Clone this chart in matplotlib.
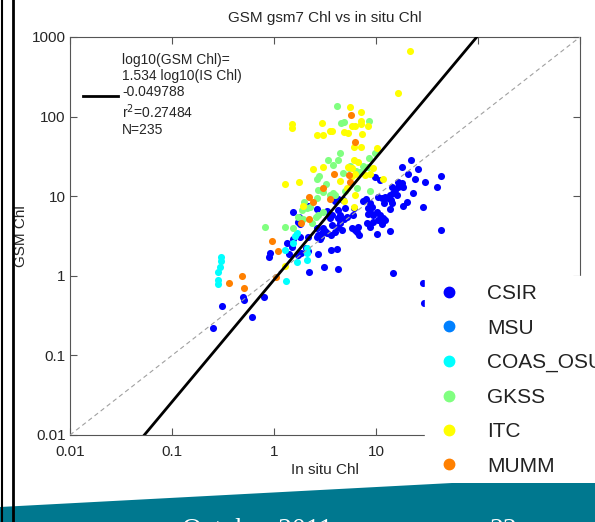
import numpy as np
import matplotlib
matplotlib.use("Agg")
import matplotlib.pyplot as plt
from matplotlib.lines import Line2D
from matplotlib.patches import Polygon

plt.rcParams['font.family'] = ['Liberation Sans', 'DejaVu Sans']

# ---------------- data (log10 values) ----------------
groups = ["CSIR", "MSU", "COAS_OSU", "GKSS", "ITC", "MUMM"]
colors = ["#0000ff", "#0080ff", "#00ffff", "#80ff80", "#ffff00", "#ff8000"]

csir_log_insitu = [1.340, 1.258, 1.415, 1.637, 1.317, 1.382, 1.480, 1.598, 1.219, 1.252,
                   1.268, 1.154, 1.170, 1.137, 1.088, 1.056, 1.023, 1.360, 1.301, 1.268,
                   1.458, 1.147, 1.154, 1.137, 1.078, 0.990, 1.039, 0.941, 0.958,
                   0.925, 0.941, 1.007, 0.974, 1.039, 1.072, 1.088, 1.023, 1.056, 0.974,
                   0.909, 0.941, 0.902, 0.777, 0.713, 0.696, 0.679, 0.630, 0.647, 0.630,
                   0.664, 0.598, 0.566, 0.549, 0.794, 0.811, 0.836, 1.013, 1.137, 1.637,
                   0.615, 0.554, 0.625, 1.170, 1.458, 1.471, 0.598, 0.630, 0.330, 0.419,
                   0.523, 0.630, 0.183, 0.232, 0.255, 0.419, 0.483, 0.434, 0.468, 0.517,
                   0.559, 0.183, 0.130, 0.174, 0.451, 0.314, 0.336, -0.039, -0.046, 0.150,
                   0.434, 0.346, 0.493, -0.307, -0.291, -0.513, -0.095, -0.219,
                   -0.595, 0.784, 0.647, 0.686, 0.500, 0.461, 0.419, 0.826, 0.762, 0.566,
                   0.248, 0.336, 0.255, 0.265, 0.238, 1.186, 1.203, 0.875, 0.925, 1.219,
                   1.121]
csir_log_gsm = [1.455, 1.361, 1.338, 1.260, 1.279, 1.222, 1.178, 1.119, 1.182, 1.170,
                1.119, 1.119, 1.036, 1.015, 0.994, 0.974, 0.994, 1.036, 0.931, 0.877,
                0.861, 0.952, 0.911, 0.835, 0.918, 1.237, 1.204, 0.911, 0.868,
                0.848, 0.805, 0.805, 0.764, 0.764, 0.722, 0.701, 0.701, 0.651, 0.680,
                0.660, 0.617, 0.961, 0.764, 0.742, 0.848, 0.952, 0.722, 0.660, 0.617,
                0.575, 0.554, 0.638, 0.722, 0.575, 0.554, 0.513, 0.525, 0.567, 0.575,
                0.333, 0.318, 0.085, 0.039, -0.094, -0.338, 0.940, 0.961, 0.881, 0.839,
                0.818, 0.827, 0.805, 0.680, 0.651, 0.597, 0.597, 0.513, 0.534, 0.534,
                0.513, 0.462, 0.408, 0.366, 0.462, 0.345, 0.315, 0.290, 0.240, 0.280,
                0.274, 0.052, 0.107, -0.263, -0.304, -0.379, -0.263, -0.514,
                -0.660, 0.848, 0.770, 0.714, 0.569, 0.491, 0.487, 0.617, 0.597, 0.764,
                0.742, 0.491, 0.491, 0.283, 0.261, 1.078, 1.015, 0.943, 0.776, 1.119,
                0.974]

msu_log_insitu = []
msu_log_gsm = []

coas_log_insitu = [-0.523, -0.523, -0.525, -0.546, -0.546, -0.546, 0.113, 0.223, 0.328, 0.326,
                   0.326, 0.223, 0.209, 0.189, 0.108]
coas_log_gsm = [0.240, 0.186, 0.114, 0.052, -0.053, -0.109, -0.062, 0.170, 0.198, 0.290,
                0.345, 0.538, 0.506, 0.408, 0.324]

gkss_log_insitu = [0.621, 0.654, 0.686, 0.934, 0.647, 0.990, 0.931, 0.526, 0.630, 0.578,
                   0.875, 0.925, 0.804, 0.843, 0.674, 0.441, 0.422, 0.510, 0.436, 0.480,
                   0.575, 0.598, 0.549, 0.696, 0.811, 0.941, 0.272, 0.321, 0.483, 0.409,
                   0.434, 0.238, 0.287, 0.375, -0.088, 0.108, 0.186, 0.745, 0.735, 0.419,
                   0.297, 0.353]
gkss_log_gsm = [2.133, 1.916, 1.932, 1.945, 1.539, 1.539, 1.480, 1.455, 1.461, 1.386,
                1.383, 1.363, 1.320, 1.308, 1.288, 1.254, 1.222, 1.153, 1.084, 1.059,
                1.044, 1.015, 1.015, 1.065, 1.099, 1.065, 0.827, 0.848, 0.805, 0.742,
                0.758, 0.735, 0.710, 0.660, 0.613, 0.617, 0.601, 1.383, 1.354, 0.974,
                0.931, 0.868]

itc_log_insitu = [1.333, 1.213, 0.745, 0.850, 0.174, 0.179, 0.468, 0.850, 0.850, 0.760,
                  0.794, 0.925, 0.549, 0.566, 0.426, 0.483, 0.689, 0.721, 0.860, 0.789,
                  0.853, 1.010, 0.784, 0.826, 0.728, 0.762, 0.968, 0.387, 0.477, 0.762,
                  0.794, 0.892, 0.941, 1.072, 0.108, 0.245, 0.647, 0.713, 0.689,
                  0.794, 0.784, 0.287, 0.108]
itc_log_gsm = [2.824, 2.296, 2.121, 2.062, 1.901, 1.857, 1.916, 1.948, 1.907, 1.882,
               1.882, 1.876, 1.823, 1.815, 1.769, 1.769, 1.807, 1.794, 1.778, 1.618,
               1.614, 1.602, 1.455, 1.430, 1.371, 1.358, 1.348, 1.342, 1.361, 1.258,
               1.275, 1.266, 1.279, 1.212, 1.149, 1.182, 1.191, 1.107, 0.943,
               1.015, 0.868, 0.877, 0.123]

mumm_log_insitu = [0.752, 0.797, 0.591, 0.738, 0.745, 0.480, 0.346, 0.385, 0.549, 0.346,
                   0.262, -0.017, 0.036, 0.023, -0.311, -0.438, -0.291]
mumm_log_gsm = [2.020, 1.681, 1.283, 1.266, 1.182, 1.107, 0.994, 0.927, 0.961, 0.710,
                0.663, 0.437, 0.308, -0.011, -0.003, -0.087, -0.149]

series_x = [csir_log_insitu, msu_log_insitu, coas_log_insitu, gkss_log_insitu, itc_log_insitu, mumm_log_insitu]
series_y = [csir_log_gsm, msu_log_gsm, coas_log_gsm, gkss_log_gsm, itc_log_gsm, mumm_log_gsm]

fit_slope = 1.534
fit_intercept = -0.049788
fit_r2 = 0.27484
fit_n = 235

tick_values = [0.01, 0.1, 1, 10, 100, 1000]
tick_labels = ["0.01", "0.1", "1", "10", "100", "1000"]

# ---------------- figure ----------------
W, H = 595, 522
fig = plt.figure(figsize=(W / 100, H / 100), dpi=100)
fig.patch.set_facecolor("white")

def fx(px):
    return px / W

def fy(py):
    return 1 - py / H

ax = fig.add_axes([fx(70), fy(435), fx(580) - fx(70), fy(37) - fy(435)])
ax.set_xscale("log")
ax.set_yscale("log")
ax.set_xlim(0.01, 1000)
ax.set_ylim(0.01, 1000)

txt_col = "#262626"
ax_col = "#555555"

for xs, ys, c in zip(series_x, series_y, colors):
    ax.scatter(10 ** np.array(xs, dtype=float), 10 ** np.array(ys, dtype=float),
               s=26, color=c, linewidths=0, zorder=2)

ax.plot(tick_values, tick_values, linestyle=(0, (4, 3)), color="#a0a0a0", lw=0.8, zorder=3)

fit_x = np.array([tick_values[0], tick_values[-1]])
fit_y = 10 ** (fit_slope * np.log10(fit_x) + fit_intercept)
fit_line, = ax.plot(fit_x, fit_y, color="black", lw=2, zorder=4)

ax.set_xticks(tick_values)
ax.set_xticklabels(tick_labels)
ax.set_yticks(tick_values)
ax.set_yticklabels(tick_labels)
ax.minorticks_off()
ax.tick_params(axis="both", which="major", direction="in", length=5, width=0.8,
               top=True, right=True, colors=ax_col, labelcolor=txt_col, labelsize=11)
ax.tick_params(axis="x", pad=7)
ax.tick_params(axis="y", pad=3)
for sp in ax.spines.values():
    sp.set_color(ax_col)
    sp.set_linewidth(0.8)

ax.set_title("GSM gsm7 Chl vs in situ Chl", fontsize=11, color=txt_col, pad=11)
ax.set_xlabel("In situ Chl", fontsize=11, color=txt_col)
ax.xaxis.set_label_coords(0.5, (435 - 470) / 398)
ax.xaxis.label.set_va("center")
ax.set_ylabel("GSM Chl", fontsize=11, color=txt_col)
ax.yaxis.set_label_coords((21 - 70) / 510, 0.5)
ax.yaxis.label.set_va("center")

fit_label = ("log10(GSM Chl)=\n%.3f log10(IS Chl)\n%.6f\nr$^{2}$=%.5f\nN=%d"
             % (fit_slope, fit_intercept, fit_r2, fit_n))
ax.legend(handles=[fit_line], labels=[fit_label], loc="upper left",
          bbox_to_anchor=((83 - 70) / 510, (435 - 53) / 398), frameon=False,
          fontsize=10, handlelength=2.5, handletextpad=0.3, borderpad=0,
          borderaxespad=0, labelcolor=txt_col)

proxies = [Line2D([], [], marker="o", linestyle="none", markersize=7.5,
                  markerfacecolor=c, markeredgecolor=c) for c in colors]
fig.legend(handles=proxies, labels=groups, loc="upper left",
           bbox_to_anchor=(fx(425), fy(276)), fontsize=15, frameon=True,
           fancybox=False, facecolor="white", edgecolor="white", framealpha=1,
           borderpad=0.4, borderaxespad=0, handlelength=1.5, handletextpad=1.07,
           labelspacing=0.74, labelcolor="#222222")

# footer band
band = Polygon([(fx(0), fy(507)), (fx(452), fy(483)), (fx(595), fy(483)),
                (fx(595), fy(522)), (fx(0), fy(522))], closed=True,
               transform=fig.transFigure, facecolor="#00788f", edgecolor="none", zorder=20)
fig.add_artist(band)
for txt, px in [("October 2011", 182), ("22", 490)]:
    fig.text(fx(px), fy(537), txt, color="white", fontsize=20,
             family=["Liberation Serif", "DejaVu Serif"], va="baseline", ha="left", zorder=21)

# slide frame lines on the left
fig.add_artist(Line2D([fx(1.5), fx(1.5)], [0, 1], color="black", lw=1.5,
                      transform=fig.transFigure, zorder=22))
fig.add_artist(Line2D([fx(12.5), fx(12.5)], [0, 1], color="black", lw=2.0,
                      transform=fig.transFigure, zorder=22))

fig.savefig("out.png", dpi=100)
